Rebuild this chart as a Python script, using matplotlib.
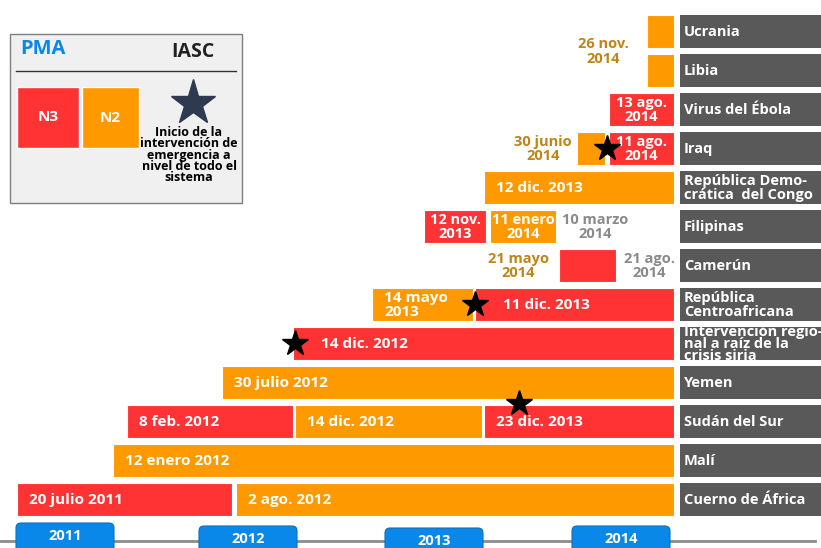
import matplotlib.pyplot as plt
from matplotlib.patches import Rectangle, FancyBboxPatch

plt.rcParams['font.family'] = ['Open Sans', 'DejaVu Sans']

# rows, top to bottom
rows = ['Ucrania', 'Libia', 'Virus del Ébola', 'Iraq',
        'República Demo-\ncrática  del Congo', 'Filipinas', 'Camerún',
        'República\nCentroafricana',
        'Intervención regio-\nnal a raíz de la\ncrisis siria',
        'Yemen', 'Sudán del Sur', 'Malí', 'Cuerno de África']

# segments on the (schematic) timeline
seg_row = [0, 1, 2, 3, 3, 4, 5, 5, 6, 7, 7, 8, 9, 10, 10, 10, 11, 12, 12]
seg_start = [647, 647, 609, 577, 609, 484, 424, 490, 559, 372, 475, 293, 222,
             127, 295, 484, 113, 17, 236]
seg_end = [674, 674, 674, 605, 674, 674, 486, 556, 616, 473, 674, 674, 674,
           293, 482, 674, 674, 232, 674]
seg_level = ['N2', 'N2', 'N3', 'N2', 'N3', 'N2', 'N3', 'N2', 'N3', 'N2', 'N3',
             'N3', 'N2', 'N3', 'N2', 'N3', 'N2', 'N3', 'N2']
seg_label = ['', '', '13 ago.\n2014', '', '11 ago.\n2014', '12 dic. 2013',
             '12 nov.\n2013', '11 enero\n2014', '', '14 mayo\n2013',
             '11 dic. 2013', '14 dic. 2012', '30 julio 2012', '8 feb. 2012',
             '14 dic. 2012', '23 dic. 2013', '12 enero 2012', '20 julio 2011',
             '2 ago. 2012']

# dates written outside the bars
note_text = ['26 nov.\n2014', '30 junio\n2014', '10 marzo\n2014',
             '21 mayo\n2014', '21 ago.\n2014']
note_row = [0.5, 3, 5, 6, 6]
note_x = [603, 543, 595, 518, 649]
note_kind = ['N2', 'N2', 'fin', 'N2', 'fin']

# IASC system-wide emergency starts
star_row = [3, 7, 8, 10]
star_x = [607, 475, 295, 519]
star_dy = [0, 0, 0, -0.45]

years = ['2011', '2012', '2013', '2014']
year_x = [65, 248, 434, 621]
year_top = [523, 526, 528, 526]

colors = {'N3': '#ff3333', 'N2': '#ff9900'}
note_colors = {'N2': '#c08417', 'fin': '#8a8a8a'}

ROW0, STEP, H = 31, 39, 33


def ry(r):
    return ROW0 + STEP * r


fig = plt.figure(figsize=(8.21, 5.48), dpi=100)
ax = fig.add_axes([0, 0, 1, 1])
ax.set_xlim(0, 821)
ax.set_ylim(548, 0)
ax.axis('off')

# bars
ys = [ry(r) for r in seg_row]
widths = [e - s for s, e in zip(seg_start, seg_end)]
ax.barh(ys, widths, left=seg_start, height=H,
        color=[colors[l] for l in seg_level], edgecolor='white', linewidth=0.8)

star_ys = [ry(r + d) for r, d in zip(star_row, star_dy)]
for y, s, e, lab in zip(ys, seg_start, seg_end, seg_label):
    if not lab:
        continue
    if e - s < 80:
        ax.text((s + e) / 2, y + 1, lab, ha='center', va='center', color='white',
                fontsize=10.5, fontweight='bold', linespacing=1.08)
    else:
        # leave room for a star sitting on the start of the bar
        near_star = any(abs(sx - s) < 10 and abs(sy - y) < 5
                        for sx, sy in zip(star_x, star_ys))
        off = 28 if near_star else 12
        ax.text(s + off, y + 1, lab, ha='left', va='center', color='white',
                fontsize=11, fontweight='bold', linespacing=1.0)

for t, r, x, k in zip(note_text, note_row, note_x, note_kind):
    ax.text(x, ry(r) + 1, t, ha='center', va='center', color=note_colors[k],
            fontsize=10.5, fontweight='bold', linespacing=1.05)

ax.plot(star_x, star_ys, linestyle='none',
        marker='*', markersize=19, color='black', zorder=5)

# row name boxes
for i, name in enumerate(rows):
    ax.add_patch(Rectangle((680, ry(i) - H / 2), 141, H, facecolor='#595959',
                           edgecolor='none'))
    ls = 0.78 if name.count('\n') > 1 else 1.0
    ax.text(684, ry(i) + 1, name, ha='left', va='center', color='white',
            fontsize=10.5, fontweight='bold', linespacing=ls)

# year axis
ax.plot([0, 815], [541, 541], color='#8c8c8c', linewidth=2, zorder=1)
for yr, x, top in zip(years, year_x, year_top):
    ax.add_patch(FancyBboxPatch((x - 49, top), 98, 35,
                                boxstyle='round,pad=0,rounding_size=5',
                                facecolor='#0a88ea', edgecolor='#0a70c0',
                                linewidth=0.8, zorder=2))
    ax.text(x, top + 13, yr, ha='center', va='center', color='white',
            fontsize=10.5, fontweight='bold', zorder=3)

# legend
ax.add_patch(Rectangle((10, 34), 232, 169, facecolor='#f0f0f0',
                       edgecolor='#7f7f7f', linewidth=1))
ax.text(20, 49, 'PMA', color='#0a88ea', fontsize=14.5, fontweight='bold',
        ha='left', va='center')
ax.text(193, 52, 'IASC', color='#222222', fontsize=14, fontweight='bold',
        ha='center', va='center')
ax.plot([16, 236], [71, 71], color='#333333', linewidth=1)
ax.add_patch(Rectangle((17, 87), 62, 61, facecolor=colors['N3'],
                       edgecolor='white'))
ax.add_patch(Rectangle((82, 87), 57, 61, facecolor=colors['N2'],
                       edgecolor='white'))
ax.text(48, 117, 'N3', color='white', fontsize=11, fontweight='bold',
        ha='center', va='center')
ax.text(110, 118, 'N2', color='white', fontsize=11, fontweight='bold',
        ha='center', va='center')
ax.plot([193], [103], marker='*', markersize=34, color='#2e3a4f',
        linestyle='none')
ax.text(189, 155, 'Inicio de la\nintervención de\nemergencia a\nnivel de todo el\nsistema',
        color='black', fontsize=9, fontweight='bold', ha='center',
        va='center', linespacing=0.82)

fig.savefig('out.png', dpi=100)
